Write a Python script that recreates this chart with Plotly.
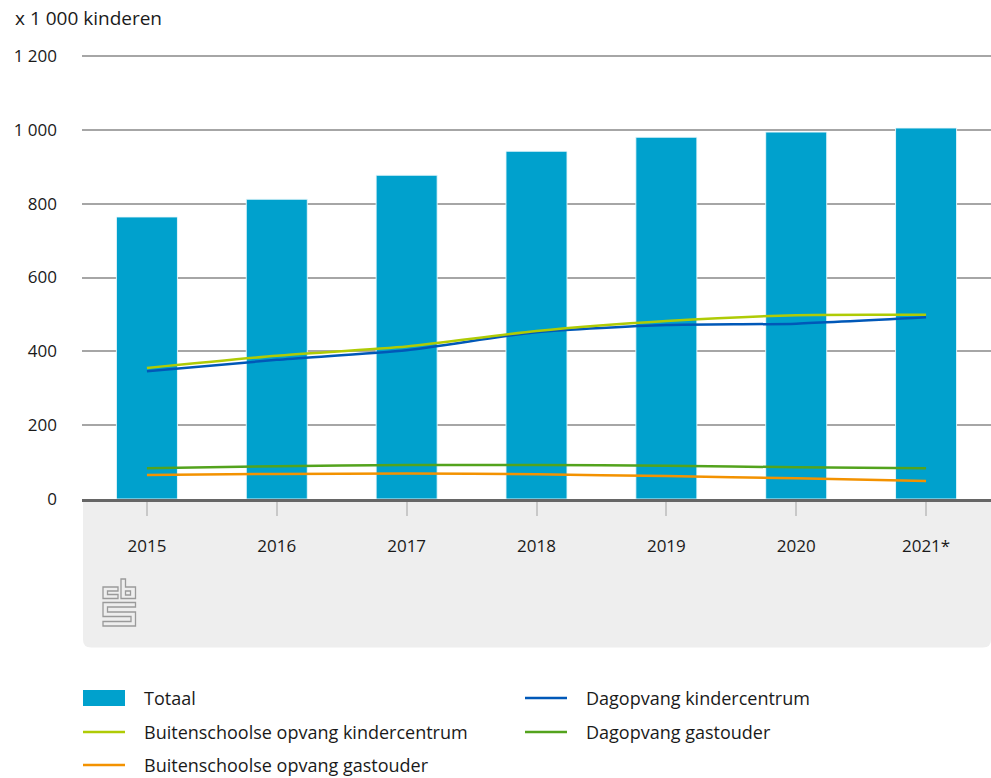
import plotly.graph_objects as go

# Kinderopvang: aantal kinderen (x 1 000) per jaar
years = ["2015", "2016", "2017", "2018", "2019", "2020", "2021*"]
totaal = [764, 812, 877, 942, 980, 994, 1005]
bso_kindercentrum = [355, 388, 413, 455, 482, 498, 499]
dag_kindercentrum = [346, 377, 403, 452, 471, 475, 492]
dag_gastouder = [83, 89, 92, 92, 90, 86, 83]
bso_gastouder = [65, 68, 69, 67, 62, 56, 49]

y_ticks = [0, 200, 400, 600, 800, 1000, 1200]

BLUE_BAR = "#00a1cd"
C_BSO_KC = "#afcb05"
C_DAG_KC = "#0058b8"
C_DAG_GO = "#53a31d"
C_BSO_GO = "#f39200"

FONT = "Open Sans"
W, H = 991, 778
ML, MR, MT, MB = 82, 0, 53, 279
PW, PH = W - ML - MR, H - MT - MB
Y_MAX = 1200 * PH / (PH - 3)  # a little headroom so the top gridline shows


def px_x(px):
    return (px - ML) / PW


def px_y(py):
    return (H - MB - py) / PH


fig = go.Figure()

fig.add_trace(go.Bar(
    x=years, y=totaal, name="Totaal", width=0.47,
    marker=dict(color=BLUE_BAR, line=dict(color="rgba(235,248,252,0.9)", width=1)),
    showlegend=False, hoverinfo="x+y",
))

lines = [
    ("Dagopvang kindercentrum", dag_kindercentrum, C_DAG_KC),
    ("Buitenschoolse opvang kindercentrum", bso_kindercentrum, C_BSO_KC),
    ("Dagopvang gastouder", dag_gastouder, C_DAG_GO),
    ("Buitenschoolse opvang gastouder", bso_gastouder, C_BSO_GO),
]
for name, vals, col in lines:
    fig.add_trace(go.Scatter(
        x=years, y=vals, name=name, mode="lines",
        line=dict(color=col, width=2.5, shape="spline", smoothing=0.6),
        showlegend=False,
    ))

shapes = []

# grey band under the x axis with rounded lower corners
x0, x1 = px_x(83), px_x(991)
yt, yb = px_y(499), px_y(647.5)
rx, ry = 8 / PW, 8 / PH
shapes.append(dict(
    type="path", xref="paper", yref="paper", layer="below",
    path=(f"M {x0},{yt} L {x1},{yt} L {x1},{yb + ry} Q {x1},{yb} {x1 - rx},{yb} "
          f"L {x0 + rx},{yb} Q {x0},{yb} {x0},{yb + ry} Z"),
    fillcolor="#eeeeee", line=dict(width=0),
))

# logo outline in the grey band
def poly(points):
    p = " L ".join(f"{px_x(a)},{px_y(b)}" for a, b in points)
    return f"M {p} Z"

logo_parts = [
    [(103, 587), (118, 587), (118, 591), (107.5, 591), (107.5, 594.5), (118, 594.5), (118, 598.5), (103, 598.5)],
    [(121, 579), (125.5, 579), (125.5, 587), (135.5, 587), (135.5, 598.5), (121, 598.5)],
    [(125.5, 591), (130.5, 591), (130.5, 595), (125.5, 595)],
    [(103, 602.5), (135.5, 602.5), (135.5, 607), (107.5, 607), (107.5, 612), (135.5, 612),
     (135.5, 626), (103, 626), (103, 621.5), (131, 621.5), (131, 616.5), (103, 616.5)],
]
for pts in logo_parts:
    shapes.append(dict(type="path", xref="paper", yref="paper", path=poly(pts),
                       line=dict(color="#9a9a9a", width=1.3), fillcolor="rgba(0,0,0,0)"))

annotations = [dict(
    text="x 1 000 kinderen", xref="paper", yref="paper",
    x=px_x(13), y=px_y(18), xanchor="left", yanchor="middle", showarrow=False,
    font=dict(family=FONT, size=19, color="#1a1a1a"),
)]

# legend, two columns
legend_items = [
    ("Totaal", BLUE_BAR, "bar", 83, 698),
    ("Dagopvang kindercentrum", C_DAG_KC, "line", 525, 698),
    ("Buitenschoolse opvang kindercentrum", C_BSO_KC, "line", 83, 732),
    ("Dagopvang gastouder", C_DAG_GO, "line", 525, 732),
    ("Buitenschoolse opvang gastouder", C_BSO_GO, "line", 83, 765),
]
for label, col, kind, lx, ly in legend_items:
    if kind == "bar":
        shapes.append(dict(type="rect", xref="paper", yref="paper",
                           x0=px_x(lx), x1=px_x(lx + 42), y0=px_y(ly - 8), y1=px_y(ly + 8),
                           fillcolor=col, line=dict(width=0)))
    else:
        shapes.append(dict(type="line", xref="paper", yref="paper",
                           x0=px_x(lx), x1=px_x(lx + 42), y0=px_y(ly), y1=px_y(ly),
                           line=dict(color=col, width=2.5)))
    annotations.append(dict(
        text=label, xref="paper", yref="paper", x=px_x(lx + 59), y=px_y(ly),
        xanchor="left", yanchor="middle", showarrow=False,
        font=dict(family=FONT, size=18, color="#1a1a1a"),
    ))

fig.update_layout(
    width=W, height=H,
    margin=dict(l=ML, r=MR, t=MT, b=MB, pad=0),
    paper_bgcolor="white", plot_bgcolor="white",
    separators=", ",
    font=dict(family=FONT, size=17, color="#1a1a1a"),
    showlegend=False,
    shapes=shapes,
    annotations=annotations,
    bargap=0.53,
)

fig.update_xaxes(
    type="category", categoryorder="array", categoryarray=years,
    showgrid=False, showline=True, linecolor="#666666", linewidth=3,
    ticks="outside", ticklen=14, tickwidth=2, tickcolor="#c8c8c8",
    ticklabelstandoff=16, layer="below traces",
    tickfont=dict(family=FONT, size=17, color="#1a1a1a"),
)
fig.update_yaxes(
    range=[0, Y_MAX], tickvals=y_ticks, separatethousands=True, tickformat=",d",
    showgrid=True, gridcolor="#a6a6a6", gridwidth=1.5,
    zeroline=False, showline=False, ticks="",
    ticklabelstandoff=24, layer="below traces",
    tickfont=dict(family=FONT, size=17, color="#1a1a1a"),
)

fig.write_html("out.html")
